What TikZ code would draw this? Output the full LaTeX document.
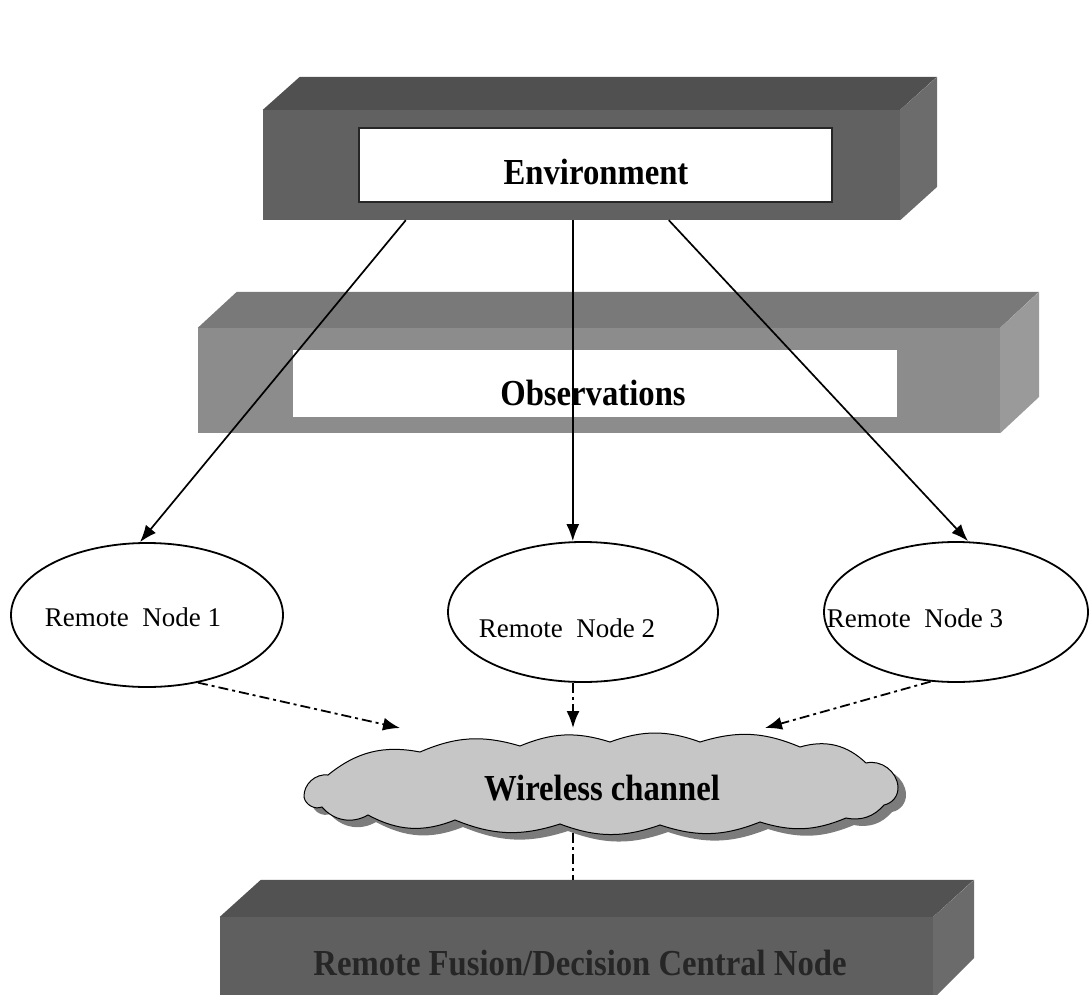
\documentclass[tikz,border=0pt]{standalone}
\usepackage{fontspec}
\setmainfont{Liberation Serif}
\usepackage{graphicx}
\usetikzlibrary{shapes.geometric,calc,arrows.meta}
\definecolor{envtop}{HTML}{505050}
\definecolor{envfront}{HTML}{616161}
\definecolor{envside}{HTML}{6C6C6C}
\definecolor{obstop}{HTML}{797979}
\definecolor{obsfront}{HTML}{8C8C8C}
\definecolor{obsside}{HTML}{9A9A9A}
\definecolor{fustop}{HTML}{525252}
\definecolor{fusfront}{HTML}{5F5F5F}
\definecolor{fusside}{HTML}{6B6B6B}
\definecolor{cloudfill}{HTML}{C6C6C6}
\definecolor{cloudshadow}{HTML}{7C7C7C}
\begin{document}
\begin{tikzpicture}[x=1pt,y=-1pt,
  face/.style={draw=none,inner sep=0pt,rectangle},
  boldlabel/.style={font=\bfseries\fontsize{32.7}{36}\selectfont,inner sep=0pt,anchor=base},
  nodelabel/.style={font=\fontsize{27}{30}\selectfont,inner sep=0pt,anchor=base},
  remote/.style={draw,ellipse,line width=1.8pt,inner sep=0pt},
  solidarrow/.style={line width=1.7pt,-{Latex[length=17pt,width=13pt]}},
  dasharrow/.style={line width=1.8pt,dash pattern=on 10pt off 4pt on 3pt off 4pt,-{Latex[length=17pt,width=13pt]}},
  dashline/.style={line width=1.8pt,dash pattern=on 10pt off 4pt on 3pt off 4pt},
  cloudpath/.style={insert path={
    (304,797) to[bend left=50] (328,775) to[bend left=25] (420,752)
    to[bend left=20] (520,746) to[bend left=20] (610,742) to[bend left=20] (700,742)
    to[bend left=20] (800,747) to[bend left=30] (866,763) to[bend left=50] (898,787)
    to[bend left=40] (884,805) to[bend left=30] (846,818) to[bend left=20] (760,822)
    to[bend left=20] (660,825) to[bend left=20] (560,824) to[bend left=20] (455,820)
    to[bend left=25] (368,815) to[bend left=40] (322,807) to[bend left=50] cycle}}]
\useasboundingbox (0,0) rectangle (1089,995);
\clip (0,0) rectangle (1089,995);

% Environment block
\node[face,fill=envfront,minimum width=637pt,minimum height=110pt] (env) at (581.5,165) {};
\fill[envtop] (env.north west) -- ++(37,-33) -- ++(637,0) -- (env.north east) -- cycle;
\fill[envside] (env.north east) -- ++(37,-33) -- ++(0,110) -- (env.south east) -- cycle;
\node[face,draw=black!85,line width=1.5pt,fill=white,minimum width=473pt,minimum height=74pt] (envbox) at (595.5,165) {};
\node[boldlabel] (envtext) at (596,185) {\scalebox{1}[1.12]{Environment}};

% Observations block
\node[face,fill=obsfront,minimum width=802pt,minimum height=105pt] (obs) at (599,380.5) {};
\fill[obstop] (obs.north west) -- ++(39,-36) -- ++(802,0) -- (obs.north east) -- cycle;
\fill[obsside] (obs.north east) -- ++(39,-36) -- ++(0,105) -- (obs.south east) -- cycle;
\node[face,fill=white,minimum width=604pt,minimum height=67pt] (obsbox) at (595,383.5) {};
\node[boldlabel] (obstext) at (593,405) {\scalebox{1}[1.12]{Observations}};

% Remote nodes
\node[remote,minimum width=272pt,minimum height=144pt] (e1) at (147,615) {};
\node[remote,minimum width=270pt,minimum height=140pt] (e2) at (583,612) {};
\node[remote,minimum width=264pt,minimum height=140pt] (e3) at (956,612) {};
\node[nodelabel] (l1) at (133,626) {Remote\ \ Node 1};
\node[nodelabel] (l2) at (567,637) {Remote\ \ Node 2};
\node[nodelabel] (l3) at (915,627) {Remote\ \ Node 3};

% Wireless channel cloud
\fill[cloudshadow,shift={(8pt,-7pt)},cloudpath];
\filldraw[fill=cloudfill,draw=black,line width=1pt,cloudpath];
\node[boldlabel] (w) at (602,800) {\scalebox{1}[1.12]{Wireless channel}};

% Fusion block
\node[face,fill=fusfront,minimum width=713pt,minimum height=90pt] (fus) at (576.5,962) {};
\fill[fustop] (fus.north west) -- ++(41,-37) -- ++(713,0) -- (fus.north east) -- cycle;
\fill[fusside] (fus.north east) -- ++(41,-37) -- ++(0,78) -- (fus.east |- 0,999) -- cycle;
\node[boldlabel,text=black!85] (fustext) at (580,975) {\scalebox{1}[1.12]{Remote Fusion/Decision Central Node}};

% solid arrows from environment
\coordinate (s1) at ([xshift=143pt]env.south west);
\coordinate (s2) at ([xshift=310pt]env.south west);
\coordinate (s3) at ([xshift=406pt]env.south west);
\draw[solidarrow] (s1) -- ([xshift=-7pt]e1.north);
\draw[solidarrow] (s2) -- (s2 |- e2.north);
\draw[solidarrow] (s3) -- ([xshift=12pt]e3.north);

% dash-dot arrows to the cloud
\coordinate (t1) at (400,728);
\coordinate (t2) at (573,728);
\coordinate (t3) at (765,728);
\draw[dasharrow] (e1.307) -- (t1);
\draw[dasharrow] (t2 |- e2.south) -- (t2);
\draw[dasharrow] (e3.250) -- (t3);

% cloud to fusion node
\coordinate (cb) at (573,833);
\draw[dashline] (cb) -- ([yshift=37pt]fus.north -| cb);
\end{tikzpicture}
\end{document}
